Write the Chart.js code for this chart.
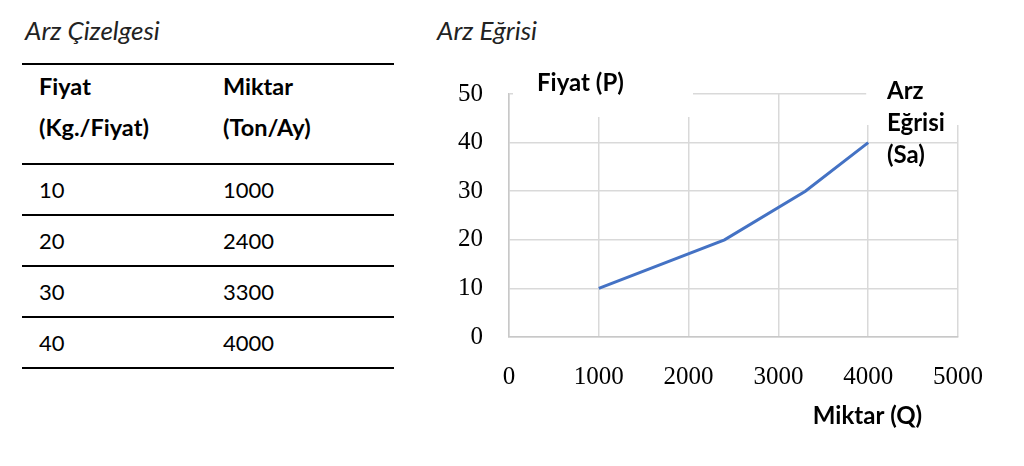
<!DOCTYPE html>
<html>
<head>
<meta charset="utf-8">
<script src="https://cdn.jsdelivr.net/npm/chart.js@4/dist/chart.umd.min.js"></script>
<style>
  html, body { margin: 0; padding: 0; background: #fff; }
  body { width: 1024px; height: 466px; position: relative; overflow: hidden; font-family: Lato, "Open Sans", sans-serif; color: #000; }
  .title { position: absolute; font-style: italic; font-size: 26px; line-height: 26px; color: #222; }
  table { position: absolute; left: 22px; top: 63px; width: 372px; border-collapse: collapse; table-layout: fixed; font-size: 22px; }
  td { padding: 0 0 0 17px; }
  tr.head td { height: 100px; vertical-align: top; font-weight: bold; font-size: 23.5px; line-height: 41px; border-top: 2px solid #000; padding-top: 1px; box-sizing: border-box; }
  tr.row td { height: 51px; vertical-align: middle; border-top: 2px solid #000; box-sizing: border-box; }
  tr.row:last-child td { border-bottom: 2px solid #000; }
  #wrap { position: absolute; left: 420px; top: 0; width: 604px; height: 466px; }
</style>
</head>
<body>
<div class="title" style="left:25px; top:17px;">Arz Çizelgesi</div>
<div class="title" style="left:437px; top:17px;">Arz Eğrisi</div>
<table id="tbl"><colgroup><col style="width:184px"><col style="width:188px"></colgroup><tbody id="tb"></tbody></table>
<div id="wrap"><canvas id="c" width="604" height="466"></canvas></div>
<script>
// Data
const tableHeaders = [["Fiyat", "(Kg./Fiyat)"], ["Miktar", "(Ton/Ay)"]];
const prices = [10, 20, 30, 40];
const quantities = [1000, 2400, 3300, 4000];
const xTicks = [0, 1000, 2000, 3000, 4000, 5000];
const yTicks = [0, 10, 20, 30, 40, 50];
const yAxisTitle = "Fiyat (P)";
const xAxisTitle = "Miktar (Q)";
const seriesLabel = ["Arz", "Eğrisi", "(Sa)"];

// Table
const tb = document.getElementById('tb');
let html = '<tr class="head"><td>' + tableHeaders[0].join('<br>') + '</td><td>' + tableHeaders[1].join('<br>') + '</td></tr>';
prices.forEach((p, i) => {
  html += '<tr class="row"><td>' + p + '</td><td>' + quantities[i] + '</td></tr>';
});
tb.innerHTML = html;

// Chart
const labelPlugin = {
  id: 'labels',
  afterDraw(chart) {
    const ctx = chart.ctx;
    const ca = chart.chartArea;
    ctx.save();
    ctx.fillStyle = '#fff';
    ctx.fillRect(ca.left + 4, 60, 180, 117 - 60);
    ctx.fillRect(chart.scales.x.getPixelForValue(4000) - 2, 60, 200, 125 - 60);
    ctx.fillStyle = '#000';
    ctx.font = 'bold 24px Lato, "Open Sans", sans-serif';
    ctx.textBaseline = 'middle';
    ctx.textAlign = 'left';
    ctx.fillText(yAxisTitle, 117, 83);
    seriesLabel.forEach((s, i) => ctx.fillText(s, 467, 91 + i * 32));
    ctx.textAlign = 'right';
    ctx.fillText(xAxisTitle, 502, 416);
    ctx.restore();
  }
};

const tickFont = { family: '"Liberation Serif", "DejaVu Serif", serif', size: 25 };

new Chart(document.getElementById('c'), {
  type: 'line',
  data: {
    datasets: [{
      data: quantities.map((q, i) => ({ x: q, y: prices[i] })),
      borderColor: '#4472C4',
      borderWidth: 3,
      pointRadius: 0,
      fill: false,
      tension: 0
    }]
  },
  options: {
    responsive: false,
    devicePixelRatio: 1,
    animation: false,
    plugins: { legend: { display: false }, tooltip: { enabled: false } },
    layout: { padding: { left: 0, top: 94, right: 66, bottom: 0 } },
    scales: {
      x: {
        type: 'linear',
        min: xTicks[0], max: xTicks[xTicks.length - 1],
        afterBuildTicks: s => { s.ticks = xTicks.map(v => ({ value: v })); },
        afterFit: s => { s.height = 129; },
        grid: { color: '#d9d9d9', lineWidth: 1.5, drawTicks: false },
        border: { color: '#c8c8c8', width: 1.5 },
        ticks: { color: '#000', padding: 25, maxRotation: 0, font: tickFont, callback: v => String(v) }
      },
      y: {
        type: 'linear',
        min: yTicks[0], max: yTicks[yTicks.length - 1],
        afterBuildTicks: s => { s.ticks = yTicks.map(v => ({ value: v })); },
        afterFit: s => { s.width = 89; },
        grid: { color: '#d9d9d9', lineWidth: 1.5, drawTicks: false },
        border: { color: '#c8c8c8', width: 1.5 },
        ticks: { color: '#000', padding: 26, font: tickFont, callback: v => String(v) }
      }
    }
  },
  plugins: [labelPlugin]
});
</script>
</body>
</html>
